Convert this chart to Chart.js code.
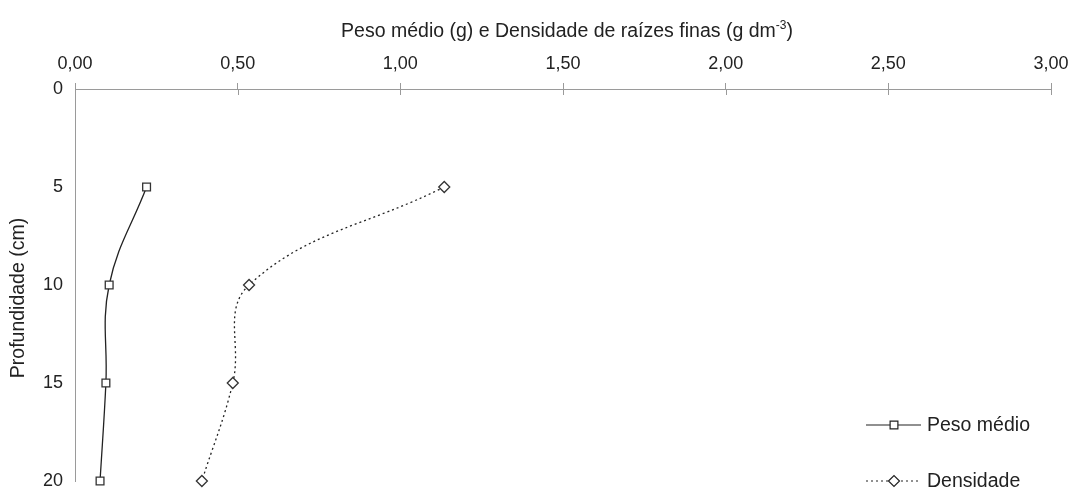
<!DOCTYPE html>
<html><head><meta charset="utf-8">
<script src="https://cdn.jsdelivr.net/npm/chart.js@4.4.0/dist/chart.umd.min.js"></script>
<style>html,body{margin:0;padding:0;background:#fff}#wrap{width:1072px;height:489px}</style>
</head><body><div id="wrap"><canvas id="c" width="1072" height="489"></canvas></div>
<script>
const depths = [5, 10, 15, 20];
const pesoMedio = [0.22, 0.105, 0.095, 0.077];
const densidade = [1.135, 0.535, 0.485, 0.39];
const xTicks = [0, 0.5, 1, 1.5, 2, 2.5, 3];
const yTicks = [0, 5, 10, 15, 20];
const seriesNames = ['Peso médio', 'Densidade'];
const xTitle = 'Peso médio (g) e Densidade de raízes finas (g dm';
const xTitleSup = '-3';
const yTitle = 'Profundidade (cm)';

const FONT = '"Liberation Sans", Arial, sans-serif';
const FS = 18;
const FT = 19.5;
const ink = '#222';

const toPts = (xs) => xs.map((v, i) => ({x: v, y: depths[i]}));

const extras = {
  id: 'extras',
  afterDraw(chart) {
    const ctx = chart.ctx, xs = chart.scales.x, ca = chart.chartArea;
    ctx.save();
    ctx.strokeStyle = '#9a9a9a'; ctx.lineWidth = 1;
    xTicks.forEach(v => {
      const px = Math.round(xs.getPixelForValue(v)) + 0.5;
      ctx.beginPath(); ctx.moveTo(px, ca.top); ctx.lineTo(px, ca.top + 6); ctx.stroke();
    });
    // x title with superscript
    ctx.fillStyle = ink; ctx.textBaseline = 'alphabetic';
    ctx.font = FT + 'px ' + FONT;
    const w1 = ctx.measureText(xTitle).width;
    ctx.font = '12px ' + FONT;
    const w2 = ctx.measureText(xTitleSup).width;
    ctx.font = FT + 'px ' + FONT;
    const w3 = ctx.measureText(')').width;
    let x0 = (ca.left + ca.right) / 2 + 4 - (w1 + w2 + w3) / 2, yb = 37;
    ctx.textAlign = 'left';
    ctx.fillText(xTitle, x0, yb);
    ctx.font = '12px ' + FONT;
    ctx.fillText(xTitleSup, x0 + w1, yb - 8);
    ctx.font = FT + 'px ' + FONT;
    ctx.fillText(')', x0 + w1 + w2, yb);
    // y title
    ctx.save();
    ctx.translate(19, 298); ctx.rotate(-Math.PI / 2);
    ctx.textAlign = 'center'; ctx.textBaseline = 'middle';
    ctx.fillText(yTitle, 0, 0);
    ctx.restore();
    // legend
    const items = [
      {y: 425, dash: [], style: 'rect', ds: 0},
      {y: 481, dash: [2, 3], style: 'rectRot', ds: 1}
    ];
    items.forEach(it => {
      ctx.strokeStyle = ink; ctx.lineWidth = 1.2; ctx.setLineDash(it.dash);
      ctx.beginPath(); ctx.moveTo(866, it.y); ctx.lineTo(921, it.y); ctx.stroke();
      ctx.setLineDash([]);
      const ds = chart.data.datasets[it.ds];
      ctx.fillStyle = '#fff'; ctx.strokeStyle = ink; ctx.lineWidth = 1.2;
      Chart.helpers.drawPoint(ctx, {pointStyle: it.style, radius: ds.pointRadius, borderWidth: 1.2}, 894, it.y);
      ctx.fillStyle = ink; ctx.font = FT + 'px ' + FONT; ctx.textAlign = 'left'; ctx.textBaseline = 'middle';
      ctx.fillText(seriesNames[it.ds], 927, it.y + 1);
    });
    ctx.restore();
  }
};

new Chart(document.getElementById('c'), {
  type: 'scatter',
  data: {
    datasets: [
      {label: seriesNames[0], data: toPts(pesoMedio), showLine: true, borderColor: ink, borderWidth: 1.3,
       tension: 0.4, pointStyle: 'rect', pointRadius: 5.5, pointBackgroundColor: '#fff', pointBorderColor: '#333',
       pointBorderWidth: 1.3, clip: false},
      {label: seriesNames[1], data: toPts(densidade), showLine: true, borderColor: ink, borderWidth: 1.3,
       borderDash: [2, 3], tension: 0.4, pointStyle: 'rectRot', pointRadius: 5.5, pointBackgroundColor: '#fff',
       pointBorderColor: '#333', pointBorderWidth: 1.3, clip: false}
    ]
  },
  options: {
    responsive: false, animation: false,
    layout: {padding: {left: 0, right: 21, top: 0, bottom: 8}},
    plugins: {legend: {display: false}, tooltip: {enabled: false}},
    scales: {
      x: {
        type: 'linear', position: 'top', min: 0, max: 3,
        afterBuildTicks: s => { s.ticks = xTicks.map(v => ({value: v})); },
        afterFit: s => { s.height = 89; s.paddingLeft = 0; s.paddingRight = 0; },
        grid: {drawOnChartArea: false, drawTicks: true, tickLength: 6, color: '#9a9a9a'},
        border: {color: '#9a9a9a', width: 1},
        ticks: {color: ink, font: {family: FONT, size: FS}, padding: 8, maxRotation: 0,
                callback: v => v.toFixed(2).replace('.', ',')}
      },
      y: {
        type: 'linear', reverse: true, min: 0, max: 20,
        afterBuildTicks: s => { s.ticks = yTicks.map(v => ({value: v})); },
        afterFit: s => { s.width = 75; s.paddingTop = 0; s.paddingBottom = 0; },
        grid: {display: false, drawTicks: false},
        border: {color: '#9a9a9a', width: 1},
        ticks: {color: ink, font: {family: FONT, size: FS}, padding: 12}
      }
    }
  },
  plugins: [extras]
});
</script></body></html>
